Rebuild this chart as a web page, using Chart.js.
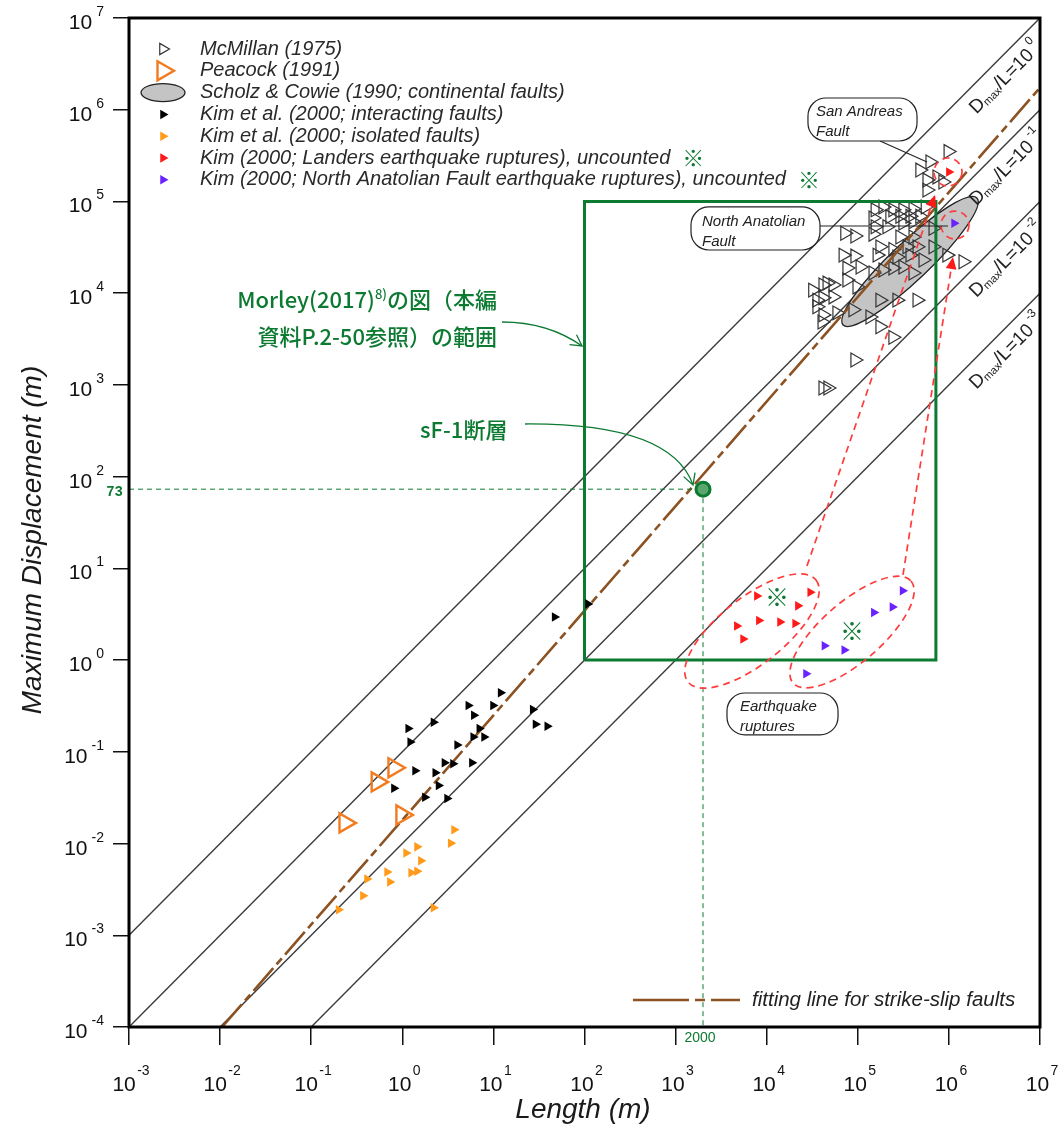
<!DOCTYPE html>
<html>
<head>
<meta charset="utf-8">
<script src="https://cdn.jsdelivr.net/npm/chart.js@4.4.0/dist/chart.umd.min.js"></script>
<style>
  html, body { margin: 0; padding: 0; background: #fff; }
  canvas { display: block; }
</style>
</head>
<body>
<canvas id="c" width="1060" height="1129"></canvas>
<script>
// ---- data: length L (m), max displacement D (m) ----
const xTicks = [1e-3, 1e-2, 1e-1, 1e0, 1e1, 1e2, 1e3, 1e4, 1e5, 1e6, 1e7];
const xTickExp = ['-3', '-2', '-1', '0', '1', '2', '3', '4', '5', '6', '7'];
const yTicks = [1e-4, 1e-3, 1e-2, 1e-1, 1e0, 1e1, 1e2, 1e3, 1e4, 1e5, 1e6, 1e7];
const yTickExp = ['-4', '-3', '-2', '-1', '0', '1', '2', '3', '4', '5', '6', '7'];

// Dmax/L reference lines (start, end)
const ratioExp = ['0', '-1', '-2', '-3'];
const ratioLines = [
  [[1e-3, 1e-3], [1e7, 1e7]],
  [[1e-3, 1e-4], [1e7, 1e6]],
  [[1e-2, 1e-4], [1e7, 1e5]],
  [[1e-1, 1e-4], [1e7, 1e4]]
];
const fitLine = [[0.0105, 1e-4], [1e7, 1.74e6]];
const morleyBox = [[100, 1], [100, 1e5], [7.2e5, 1e5], [7.2e5, 1], [100, 1]];
const sF1 = [2000, 73];
const scholzCowie = [[6.9e4, 4.5e3], [2.03e6, 1.09e5]];   // ellipse tips

const mcmillan = [
  [9.8e5, 3.5e5], [4.8e5, 2.2e5], [6.2e5, 2.7e5], [5.75e5, 1.71e5], [7.4e5, 1.85e5],
  [5.75e5, 1.33e5], [8.6e5, 1.63e5],
  [1.55e5, 8.1e4], [1.89e5, 8.7e4], [2.43e5, 8.1e4], [3.13e5, 8.1e4], [4.04e5, 8.3e4], [5.5e5, 8.7e4],
  [1.47e5, 6.6e4], [2.25e5, 6.8e4], [2.9e5, 6.9e4], [3.74e5, 6.9e4], [4.8e5, 6.9e4],
  [1.55e5, 5.3e4], [2.09e5, 5.3e4], [3.13e5, 5.8e4], [4.04e5, 6.0e4], [6.7e5, 5.1e4],
  [7.2e4, 4.5e4], [9.3e4, 4.2e4], [1.47e5, 4.4e4], [2.9e5, 4.1e4], [4.04e5, 4.1e4],
  [1.75e5, 3.2e4], [2.43e5, 3.0e4], [3.47e5, 3.2e4], [4.47e5, 3.2e4], [6.7e5, 3.2e4],
  [6.9e4, 2.6e4], [9.3e4, 2.54e4], [1.63e5, 2.6e4], [2.69e5, 2.48e4], [3.74e5, 2.6e4], [5.2e5, 2.3e4], [9.5e5, 2.6e4],
  [7.6e4, 1.88e4], [1.06e5, 1.93e4], [1.47e5, 1.66e4], [1.89e5, 1.79e4], [2.43e5, 1.88e4], [3.13e5, 1.93e4],
  [4.04e5, 1.66e4], [1.43e6, 2.2e4],
  [3.2e4, 1.08e4], [4.15e4, 1.23e4], [5.35e4, 1.23e4], [4.6e4, 1.29e4], [7.6e4, 1.39e4], [9.8e4, 1.17e4],
  [3.56e4, 8.4e3], [4.15e4, 8.9e3], [5.35e4, 9.1e3], [1.75e5, 8.4e3], [2.69e5, 8.4e3], [4.47e5, 8.4e3],
  [3.56e4, 7.1e3], [5.9e4, 6.1e3], [8.85e4, 6.6e3], [1.36e5, 5.5e3],
  [4.15e4, 5.8e3], [4.05e4, 4.85e3], [1.75e5, 4.3e3], [2.43e5, 3.3e3],
  [9.3e4, 1.87e3], [4.15e4, 925], [4.7e4, 925]
];
const peacock = [[0.235, 0.0168], [0.53, 0.047], [0.81, 0.067], [0.99, 0.0205]];
const kimInteracting = [
  [47, 2.95], [109, 4.1], [12, 0.44], [5.3, 0.32], [9.9, 0.32], [6.1, 0.25], [1.16, 0.18],
  [2.2, 0.21], [7.0, 0.18], [6.0, 0.145], [7.9, 0.145], [1.22, 0.128], [4.0, 0.119],
  [2.9, 0.076], [3.6, 0.074], [5.8, 0.076], [1.38, 0.062], [2.3, 0.059], [2.5, 0.043],
  [0.81, 0.040], [1.77, 0.032], [3.1, 0.031], [27, 0.29], [29, 0.20], [39, 0.19]
];
const kimIsolated = [
  [3.7, 0.0141], [3.4, 0.0101], [1.45, 0.0092], [1.10, 0.0079], [1.6, 0.0065], [0.68, 0.0049],
  [1.25, 0.0048], [1.45, 0.0050], [0.73, 0.0038], [0.41, 0.0041], [0.37, 0.0027], [0.20, 0.0019], [2.2, 0.0020]
];
const landers = [
  [7800, 5.0], [30000, 5.5], [22000, 3.9], [4700, 2.35], [8200, 2.7], [14000, 2.6], [20500, 2.5], [5500, 1.7],
  [1.0e6, 2.1e5]
];
const northAnatolian = [
  [3.1e5, 5.7], [2.4e5, 3.8], [1.5e5, 3.3], [4.3e4, 1.43], [7.1e4, 1.29], [2.7e4, 0.71],
  [1.14e6, 5.8e4]
];

// ---- styling ----
const C = {
  ink: '#222', line: '#3a3a3a', brown: '#8c5222', green: '#0d7a32', sfFill: '#5aa66e',
  red: '#ff1a1a', redDash: '#ff3b3b', purple: '#6b22ff', orange: '#ff9a1a', peacock: '#f27b1f', grey: '#c4c4c4'
};
const SANS = '"Liberation Sans", Arial, sans-serif';
const CJK = '"Noto Sans CJK JP", sans-serif';

// annotation geometry, in decades (log10 L, log10 D)
const notes = {
  saBox: [[4.453, 6.128], [5.650, 5.659]], saText: [4.541, 5.975, 5.757], saLeader: [[5.244, 5.659], [5.760, 5.430]],
  nafBox: [[3.169, 4.940], [4.585, 4.471]], nafText: [3.290, 4.776, 4.558], nafLeader: [[4.585, 4.733], [5.990, 4.733]],
  eqBox: [[3.564, -0.359], [4.783, -0.816]], eqText: [3.707, -0.511, -0.729],
  landersEll: [[3.136, -0.239], [4.541, 0.873]], nafEll: [[4.289, -0.250], [5.584, 0.862]],
  saCircle: [5.990, 5.321], nafCircle: [6.067, 4.743],
  landersLink: [[4.442, 1.026], [5.848, 5.070]], nafLink: [[5.496, 0.928], [6.045, 4.395]],
  morleyArrow: [[1.094, 3.686], [1.599, 3.686], [1.973, 3.424]],
  sfArrow: [[1.347, 2.574], [2.950, 2.585], [3.191, 1.909]],
  morleyText: [1.039, 3.926, 3.522], sfText: [0.194, 2.509],
  marks: [[4.113, 0.688], [4.936, 0.317]],
  fitKey: [[2.532, -3.705], [3.707, -3.705]]
};

const pts = a => a.map(([x, y]) => ({ x, y }));
const lineSet = (data, color, width, dash, order) => ({
  data: pts(data), showLine: true, pointRadius: 0, borderColor: color, borderWidth: width,
  borderDash: dash || [], fill: false, order
});
const triSet = (label, data, r, fillCol, strokeCol, bw, order) => ({
  label, data: pts(data), showLine: false, pointStyle: 'triangle', rotation: 90, pointRadius: r,
  backgroundColor: fillCol, borderColor: strokeCol, borderWidth: bw, order
});

const datasets = [
  ...ratioLines.map(l => lineSet(l, C.line, 1.4, null, 20)),
  triSet('McMillan (1975)', mcmillan, 8, 'rgba(0,0,0,0)', '#333', 1.2, 15),
  lineSet(fitLine, C.brown, 2.6, [30, 5, 8, 5], 12),
  lineSet([[1e-3, sF1[1]], sF1], C.green, 1, [5, 4], 11),
  lineSet([sF1, [sF1[0], 1e-4]], C.green, 1, [5, 4], 11),
  lineSet(morleyBox, C.green, 3, null, 10),
  triSet('Peacock (1991)', peacock, 11, 'rgba(0,0,0,0)', C.peacock, 2.4, 6),
  triSet('Kim et al. (2000; interacting faults)', kimInteracting, 5.5, '#000', '#000', 0, 5),
  triSet('Kim et al. (2000; isolated faults)', kimIsolated, 5.5, C.orange, C.orange, 0, 5),
  triSet('Kim (2000; Landers)', landers, 5.5, C.red, C.red, 0, 4),
  triSet('Kim (2000; North Anatolian)', northAnatolian, 5.5, C.purple, C.purple, 0, 4),
  { label: 'sF-1', data: pts([sF1]), pointRadius: 7, pointStyle: 'circle',
    backgroundColor: C.sfFill, borderColor: C.green, borderWidth: 3, order: 1 }
];

function tipEllipse(ctx, p, q, ry) {
  const cx = (p[0] + q[0]) / 2, cy = (p[1] + q[1]) / 2;
  const rx = Math.hypot(q[0] - p[0], q[1] - p[1]) / 2;
  const rot = Math.atan2(q[1] - p[1], q[0] - p[0]);
  ctx.beginPath();
  ctx.ellipse(cx, cy, rx, ry, rot, 0, Math.PI * 2);
}
function roundBox(ctx, a, b, r) {
  const x = Math.min(a[0], b[0]), y = Math.min(a[1], b[1]);
  const w = Math.abs(b[0] - a[0]), h = Math.abs(b[1] - a[1]);
  ctx.beginPath();
  ctx.roundRect(x, y, w, h, r);
}
function arrowHead(ctx, from, to, size, color) {
  const ang = Math.atan2(to[1] - from[1], to[0] - from[0]);
  ctx.save();
  ctx.translate(to[0], to[1]);
  ctx.rotate(ang);
  ctx.beginPath();
  ctx.moveTo(0, 0);
  ctx.lineTo(-size, -size * 0.45);
  ctx.lineTo(-size, size * 0.45);
  ctx.closePath();
  ctx.fillStyle = color;
  ctx.fill();
  ctx.restore();
}
function openArrow(ctx, from, to, size, color) {
  const ang = Math.atan2(to[1] - from[1], to[0] - from[0]);
  ctx.save();
  ctx.translate(to[0], to[1]);
  ctx.rotate(ang);
  ctx.beginPath();
  ctx.moveTo(-size, -size * 0.55);
  ctx.lineTo(0, 0);
  ctx.lineTo(-size, size * 0.55);
  ctx.strokeStyle = color;
  ctx.lineWidth = 1.3;
  ctx.stroke();
  ctx.restore();
}
function tri(ctx, x, y, r, fillCol, strokeCol, bw) {
  ctx.beginPath();
  ctx.moveTo(x + r, y);
  ctx.lineTo(x - r / 2, y - r * 0.866);
  ctx.lineTo(x - r / 2, y + r * 0.866);
  ctx.closePath();
  if (fillCol) { ctx.fillStyle = fillCol; ctx.fill(); }
  if (bw) { ctx.strokeStyle = strokeCol; ctx.lineWidth = bw; ctx.stroke(); }
}
// runs of text: [{t, font, dy}]
function runs(ctx, list, x, y, align, color) {
  let total = 0;
  list.forEach(r => { ctx.font = r.font; r.w = ctx.measureText(r.t).width; total += r.w; });
  let cx = align === 'right' ? x - total : align === 'center' ? x - total / 2 : x;
  ctx.fillStyle = color;
  ctx.textAlign = 'left';
  ctx.textBaseline = 'alphabetic';
  list.forEach(r => { ctx.font = r.font; ctx.fillText(r.t, cx, y + (r.dy || 0)); cx += r.w; });
  return cx;
}

const legendRows = [
  { t: 'McMillan (1975)', kind: 'hollow', col: '#333', r: 6.5 },
  { t: 'Peacock (1991)', kind: 'peacock', col: C.peacock, r: 11 },
  { t: 'Scholz & Cowie (1990; continental faults)', kind: 'ellipse' },
  { t: 'Kim et al. (2000; interacting faults)', kind: 'solid', col: '#000', r: 5.5 },
  { t: 'Kim et al. (2000; isolated faults)', kind: 'solid', col: C.orange, r: 5.5 },
  { t: 'Kim (2000; Landers earthquake ruptures), uncounted', kind: 'solid', col: C.red, r: 5.5, mark: true },
  { t: 'Kim (2000; North Anatolian Fault earthquake ruptures), uncounted', kind: 'solid', col: C.purple, r: 5.5, mark: true }
];

const deco = {
  id: 'deco',
  beforeDatasetDraw(chart, args) {
    if (args.meta.label !== 'McMillan (1975)') return;
    const { ctx, chartArea: a, scales: { x, y } } = chart;
    const p = scholzCowie.map(([L, D]) => [x.getPixelForValue(L), y.getPixelForValue(D)]);
    ctx.save();
    ctx.beginPath(); ctx.rect(a.left, a.top, a.right - a.left, a.bottom - a.top); ctx.clip();
    tipEllipse(ctx, p[0], p[1], 19);
    ctx.fillStyle = C.grey; ctx.fill();
    ctx.strokeStyle = '#222'; ctx.lineWidth = 1.3; ctx.stroke();
    ctx.restore();
  },
  afterDraw(chart) {
    const { ctx, chartArea: a, scales: { x, y } } = chart;
    const P = (lx, ly) => [x.getPixelForValue(Math.pow(10, lx)), y.getPixelForValue(Math.pow(10, ly))];
    ctx.save();

    // frame
    ctx.strokeStyle = '#000'; ctx.lineWidth = 3;
    ctx.strokeRect(a.left, a.top, a.right - a.left, a.bottom - a.top);

    // y tick labels
    yTicks.forEach((v, i) => {
      const ty = y.getPixelForValue(v);
      ctx.font = '14px ' + SANS;
      const we = ctx.measureText(yTickExp[i]).width;
      ctx.font = '21px ' + SANS;
      const wb = ctx.measureText('10').width;
      ctx.fillStyle = '#111'; ctx.textAlign = 'left'; ctx.textBaseline = 'alphabetic';
      ctx.fillText('10', 104 - we - 4 - wb, ty + 11);
      ctx.font = '14px ' + SANS;
      ctx.fillText(yTickExp[i], 104 - we, ty - 2);
    });
    // x tick labels
    xTicks.forEach((v, i) => {
      const tx = x.getPixelForValue(v);
      runs(ctx, [
        { t: '10', font: '21px ' + SANS },
        { t: ' ', font: '5px ' + SANS },
        { t: xTickExp[i], font: '14px ' + SANS, dy: -16 }
      ], tx + 2, 1091, 'center', '#111');
    });
    // axis titles
    ctx.fillStyle = '#1a1a1a';
    ctx.font = 'italic 28px ' + SANS;
    ctx.textAlign = 'center'; ctx.textBaseline = 'middle';
    ctx.save(); ctx.translate(33, 540); ctx.rotate(-Math.PI / 2);
    ctx.fillText('Maximum Displacement (m)', 0, 0); ctx.restore();
    ctx.fillText('Length (m)', 583, 1110);

    // sF-1 guide labels
    ctx.fillStyle = C.green; ctx.font = 'bold 14px "Liberation Mono", monospace';
    ctx.textAlign = 'right'; ctx.textBaseline = 'middle';
    ctx.fillText(String(sF1[1]), 123, y.getPixelForValue(sF1[1]) + 3);
    ctx.font = '14px ' + SANS; ctx.textAlign = 'center';
    ctx.fillText(String(sF1[0]), x.getPixelForValue(sF1[0]) - 3, 1038);

    // Dmax/L labels
    ratioLines.forEach((l, i) => {
      const L0 = 1e6, D0 = L0 * l[0][1] / l[0][0];
      const p0 = [x.getPixelForValue(L0), y.getPixelForValue(D0)];
      const p1 = [x.getPixelForValue(L0 * 10), y.getPixelForValue(D0 * 10)];
      const ang = Math.atan2(p1[1] - p0[1], p1[0] - p0[0]);
      ctx.save();
      ctx.translate(p0[0], p0[1]); ctx.rotate(ang);
      runs(ctx, [
        { t: 'D', font: '19px ' + SANS },
        { t: 'max', font: '11px ' + SANS, dy: 2 },
        { t: '/L=10', font: '19px ' + SANS },
        { t: ' ' + ratioExp[i], font: '12px ' + SANS, dy: -11 }
      ], 16, 23, 'left', '#222');
      ctx.restore();
    });

    // clip region for in-plot annotations
    ctx.save();
    ctx.beginPath(); ctx.rect(a.left, a.top, a.right - a.left, a.bottom - a.top); ctx.clip();

    // red dashed ellipses, circles, links
    ctx.strokeStyle = C.redDash; ctx.lineWidth = 1.7; ctx.setLineDash([7, 5]);
    tipEllipse(ctx, P(...notes.landersEll[0]), P(...notes.landersEll[1]), 33); ctx.stroke();
    tipEllipse(ctx, P(...notes.nafEll[0]), P(...notes.nafEll[1]), 30); ctx.stroke();
    [notes.saCircle, notes.nafCircle].forEach(c => {
      const p = P(...c); ctx.beginPath(); ctx.arc(p[0], p[1], 14, 0, Math.PI * 2); ctx.stroke();
    });
    [notes.landersLink, notes.nafLink].forEach(l => {
      const p = P(...l[0]), q = P(...l[1]);
      ctx.beginPath(); ctx.moveTo(p[0], p[1]); ctx.lineTo(q[0], q[1]); ctx.stroke();
    });
    ctx.setLineDash([]);
    [notes.landersLink, notes.nafLink].forEach(l => arrowHead(ctx, P(...l[0]), P(...l[1]), 12, C.red));

    // callout boxes
    const box = (b, t, lines, leader) => {
      if (leader) {
        const p = P(...leader[0]), q = P(...leader[1]);
        ctx.beginPath(); ctx.moveTo(p[0], p[1]); ctx.lineTo(q[0], q[1]);
        ctx.strokeStyle = '#222'; ctx.lineWidth = 1.1; ctx.stroke();
      }
      const p = P(...b[0]), q = P(...b[1]);
      roundBox(ctx, p, q, 18);
      ctx.fillStyle = '#fff'; ctx.fill();
      ctx.strokeStyle = '#222'; ctx.lineWidth = 1.2; ctx.stroke();
      ctx.fillStyle = '#222'; ctx.font = 'italic 15px ' + SANS;
      ctx.textAlign = 'left'; ctx.textBaseline = 'middle';
      lines.forEach((s, k) => { const r = P(t[0], t[k + 1]); ctx.fillText(s, r[0], r[1]); });
    };
    box(notes.saBox, notes.saText, ['San Andreas', 'Fault'], notes.saLeader);
    box(notes.nafBox, notes.nafText, ['North Anatolian', 'Fault'], notes.nafLeader);
    box(notes.eqBox, notes.eqText, ['Earthquake', 'ruptures']);

    // green notes
    ctx.strokeStyle = C.green; ctx.lineWidth = 1.3;
    [notes.morleyArrow, notes.sfArrow].forEach(c => {
      const [p, m, q] = c.map(v => P(...v));
      ctx.beginPath(); ctx.moveTo(p[0], p[1]); ctx.quadraticCurveTo(m[0], m[1], q[0], q[1]); ctx.stroke();
      openArrow(ctx, m, q, 11, C.green);
    });
    const m1 = P(notes.morleyText[0], notes.morleyText[1]);
    const m2 = P(notes.morleyText[0], notes.morleyText[2]);
    runs(ctx, [
      { t: 'Morley(2017)', font: '500 22px ' + CJK },
      { t: '8)', font: '500 13px ' + CJK, dy: -9 },
      { t: 'の図（本編', font: '500 22px ' + CJK }
    ], m1[0], m1[1] + 8, 'right', C.green);
    runs(ctx, [{ t: '資料P.2-50参照）の範囲', font: '500 22px ' + CJK }], m2[0], m2[1] + 8, 'right', C.green);
    const sf = P(...notes.sfText);
    runs(ctx, [{ t: 'sF-1断層', font: '500 22px ' + CJK }], sf[0], sf[1] + 8, 'left', C.green);
    ctx.font = '24px ' + CJK; ctx.fillStyle = C.green; ctx.textAlign = 'center'; ctx.textBaseline = 'middle';
    notes.marks.forEach(m => { const p = P(...m); ctx.fillText('※', p[0], p[1]); });

    // fitting line key
    const k0 = P(...notes.fitKey[0]), k1 = P(...notes.fitKey[1]);
    ctx.beginPath(); ctx.moveTo(k0[0], k0[1]); ctx.lineTo(k1[0], k1[1]);
    ctx.strokeStyle = C.brown; ctx.lineWidth = 2.6; ctx.setLineDash([56, 6, 10, 6]); ctx.stroke();
    ctx.setLineDash([]);
    ctx.fillStyle = '#222'; ctx.font = 'italic 20.5px ' + SANS; ctx.textAlign = 'left';
    ctx.fillText('fitting line for strike-slip faults', k1[0] + 12, k1[1]);
    ctx.restore();

    // legend
    const lx = a.left + 34, tx = a.left + 71;
    legendRows.forEach((r, i) => {
      const ly = a.top + 31 + i * 21.8;
      if (r.kind === 'hollow') tri(ctx, lx, ly, r.r, null, r.col, 1.2);
      else if (r.kind === 'peacock') tri(ctx, lx, ly, r.r, null, r.col, 2.4);
      else if (r.kind === 'solid') tri(ctx, lx, ly, r.r, r.col, r.col, 0);
      else {
        ctx.beginPath(); ctx.ellipse(lx, ly, 22, 9, 0, 0, Math.PI * 2);
        ctx.fillStyle = C.grey; ctx.fill(); ctx.strokeStyle = '#222'; ctx.lineWidth = 1.3; ctx.stroke();
      }
      ctx.fillStyle = '#2a2a2a'; ctx.font = 'italic 20px ' + SANS;
      ctx.textAlign = 'left'; ctx.textBaseline = 'middle';
      ctx.fillText(r.t, tx, ly);
      if (r.mark) {
        const w = ctx.measureText(r.t).width;
        ctx.font = '22px ' + CJK; ctx.fillStyle = C.green;
        ctx.fillText('※', tx + w + 12, ly);
      }
    });
    ctx.restore();
  }
};

const tickGrid = len => ({
  display: true, drawOnChartArea: false, drawTicks: true, tickLength: len, color: '#111', lineWidth: 1.5
});

new Chart(document.getElementById('c'), {
  type: 'scatter',
  data: { datasets },
  options: {
    responsive: false,
    devicePixelRatio: 1,
    animation: false,
    layout: { padding: { top: 18, right: 20, left: 0, bottom: 0 } },
    plugins: { legend: { display: false }, tooltip: { enabled: false } },
    scales: {
      x: {
        type: 'logarithmic', min: 1e-3, max: 1e7,
        afterBuildTicks: s => { s.ticks = xTicks.map(v => ({ value: v })); },
        afterFit: s => { s.height = 102; },
        grid: tickGrid(18), border: { display: false },
        ticks: { callback: () => '', autoSkip: false, maxRotation: 0 }
      },
      y: {
        type: 'logarithmic', min: 1e-4, max: 1e7,
        afterBuildTicks: s => { s.ticks = yTicks.map(v => ({ value: v })); },
        afterFit: s => { s.width = 129; },
        grid: tickGrid(16), border: { display: false },
        ticks: { callback: () => '', autoSkip: false }
      }
    }
  },
  plugins: [deco]
});
</script>
</body>
</html>
